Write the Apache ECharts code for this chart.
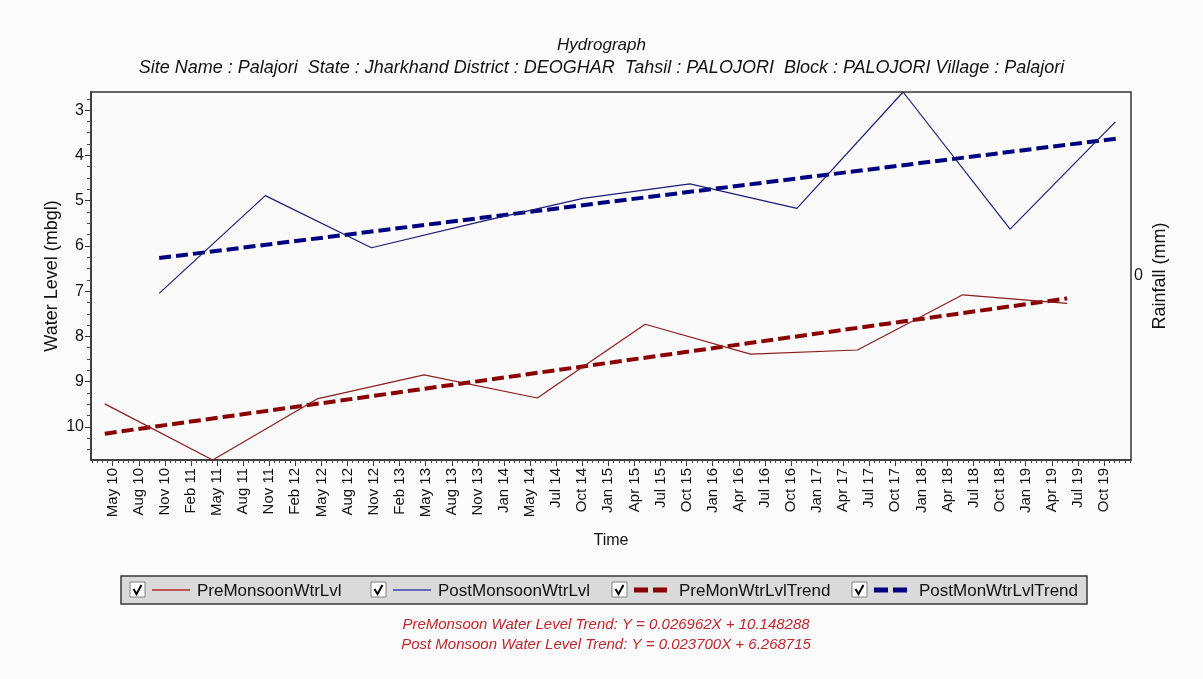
<!DOCTYPE html>
<html>
<head>
<meta charset="utf-8">
<script src="https://cdn.jsdelivr.net/npm/echarts@6/dist/echarts.min.js"></script>
<style>
  html, body { margin: 0; padding: 0; background: #fcfcfc; }
  #chart { width: 1203px; height: 679px; }
</style>
</head>
<body>
<div id="chart"></div>
<script>
// ---- data (x = months counted from Jan 2010, y = water level in m below ground) ----
const timeLabels = ['May 10','Aug 10','Nov 10','Feb 11','May 11','Aug 11','Nov 11','Feb 12','May 12','Aug 12',
  'Nov 12','Feb 13','May 13','Aug 13','Nov 13','Jan 14','May 14','Jul 14','Oct 14','Jan 15','Apr 15','Jul 15',
  'Oct 15','Jan 16','Apr 16','Jul 16','Oct 16','Jan 17','Apr 17','Jul 17','Oct 17','Jan 18','Apr 18','Jul 18',
  'Oct 18','Jan 19','Apr 19','Jul 19','Oct 19'];

const preMonsoonMonth = [3.6, 15.9, 27.8, 40.0, 52.9, 65.2, 77.2, 89.4, 101.4, 113.3];
const preMonsoonLevel = [9.49, 10.73, 9.38, 8.85, 9.36, 7.73, 8.39, 8.30, 7.08, 7.27];

const postMonsoonMonth = [9.8, 21.9, 34.0, 46.1, 58.1, 70.3, 82.5, 94.6, 106.8, 118.8];
const postMonsoonLevel = [7.05, 4.89, 6.04, 5.48, 4.95, 4.63, 5.17, 2.60, 5.63, 3.26];

const preTrendMonth = [3.6, 113.3];
const preTrendLevel = [10.148, 7.16];
const postTrendMonth = [9.8, 118.9];
const postTrendLevel = [6.269, 3.63];

const levelTicks = [3, 4, 5, 6, 7, 8, 9, 10];
const rainfallTicks = [0];

const seriesNames = ['PreMonsoonWtrLvl', 'PostMonsoonWtrLvl', 'PreMonWtrLvlTrend', 'PostMonWtrLvlTrend'];
const trendNotes = [
  'PreMonsoon Water Level Trend: Y = 0.026962X + 10.148288',
  'Post Monsoon Water Level Trend: Y = 0.023700X + 6.268715'
];
const titleText = 'Hydrograph';
const siteText = 'Site Name : Palajori  State : Jharkhand District : DEOGHAR  Tahsil : PALOJORI  Block : PALOJORI Village : Palajori';

// ---- layout ----
const FONT = '"Liberation Sans", Arial, sans-serif';
const GRID = { left: 91, top: 92, width: 1040, height: 368 };
const X_MIN = 2.03, X_MAX = 120.58;
const X_FIRST = 4.5, X_STEP = 113 / 38;

const COLORS = {
  pre: '#8c1c1c', post: '#1c1c78',
  preTrend: '#8b0000', postTrend: '#000080',
  preLegend: '#b52a2a', postLegend: '#3a45a8'
};

const zip = (xs, ys) => xs.map((x, i) => [x, ys[i]]);

const majorX = timeLabels.map((_, i) => X_FIRST + i * X_STEP);
const minorX = [];
for (let v = X_FIRST - X_STEP; v <= X_MAX; v += X_STEP / 5) {
  if (v >= X_MIN) minorX.push(v);
}

const allLevels = preMonsoonLevel.concat(postMonsoonLevel, preTrendLevel, postTrendLevel);
const yMin = Math.min(...allLevels), yMax = Math.max(...allLevels);
const minorY = [];
for (let v = Math.ceil(yMin * 4) / 4; v <= yMax; v += 0.25) {
  if (Math.abs(v - Math.round(v)) > 1e-6) minorY.push(v);
}

// ---- legend box with check boxes ----
const legendBox = { x: 121, y: 576, w: 966, h: 28 };
const legendItemX = [130, 371, 612, 852];
const legendStyles = [
  { color: COLORS.preLegend, width: 1.5, dash: null },
  { color: COLORS.postLegend, width: 1.5, dash: null },
  { color: COLORS.preTrend, width: 5, dash: [14, 5] },
  { color: COLORS.postTrend, width: 5, dash: [14, 5] }
];
const legendChildren = [{
  type: 'rect',
  shape: { x: legendBox.x, y: legendBox.y, width: legendBox.w, height: legendBox.h },
  style: { fill: '#dadada', stroke: '#3a3a3a', lineWidth: 1.5 }
}];
seriesNames.forEach((name, i) => {
  const x = legendItemX[i], cy = legendBox.y + 14;
  const st = legendStyles[i];
  legendChildren.push(
    { type: 'rect', shape: { x: x, y: cy - 8, width: 15, height: 15 },
      style: { fill: '#ffffff', stroke: '#808080', lineWidth: 1 } },
    { type: 'polyline', shape: { points: [[x + 3.5, cy - 1], [x + 6.5, cy + 4], [x + 11.5, cy - 5]] },
      style: { stroke: '#000', lineWidth: 2, fill: null } },
    { type: 'line', shape: { x1: x + 22, y1: cy, x2: x + 60, y2: cy },
      style: { stroke: st.color, lineWidth: st.width, lineDash: st.dash } },
    { type: 'text', x: x + 67, y: cy + 1,
      style: { text: name, font: '17px ' + FONT, fill: '#111', verticalAlign: 'middle', align: 'left' } }
  );
});
trendNotes.forEach((t, i) => {
  legendChildren.push({
    type: 'text', x: 606, y: 625 + i * 20,
    style: { text: t, font: 'italic 15px ' + FONT, fill: '#c0262b', align: 'center', verticalAlign: 'middle' }
  });
});

const chart = echarts.init(document.getElementById('chart'), null, { renderer: 'canvas' });

const option = {
  backgroundColor: '#fcfcfc',
  animation: false,
  textStyle: { fontFamily: FONT },
  title: {
    text: titleText,
    subtext: siteText,
    left: 'center',
    top: 32,
    itemGap: 5,
    textStyle: { fontSize: 17, fontStyle: 'italic', fontWeight: 'normal', color: '#111', fontFamily: FONT },
    subtextStyle: { fontSize: 18, fontStyle: 'italic', color: '#111', fontFamily: FONT }
  },
  grid: Object.assign({ show: true, backgroundColor: '#fafafa', borderColor: '#333', borderWidth: 1.5 }, GRID),
  xAxis: [{
    type: 'value', min: X_MIN, max: X_MAX, position: 'bottom',
    name: 'Time', nameLocation: 'middle', nameGap: 73, nameMoveOverlap: false,
    nameTextStyle: { fontSize: 16, color: '#111', fontFamily: FONT },
    axisLine: { show: true, onZero: false, lineStyle: { color: '#333', width: 1.5 } },
    axisTick: { show: true, length: 6, customValues: majorX, lineStyle: { color: '#333' } },
    axisLabel: {
      customValues: majorX, rotate: 90, margin: 8, fontSize: 15, color: '#111', fontFamily: FONT,
      formatter: v => timeLabels[Math.round((v - X_FIRST) / X_STEP)] || ''
    },
    splitLine: { show: false }
  }, {
    type: 'value', min: X_MIN, max: X_MAX, position: 'bottom',
    axisLine: { show: false, onZero: false },
    axisTick: { show: true, length: 3, customValues: minorX, lineStyle: { color: '#444' } },
    axisLabel: { show: false },
    splitLine: { show: false }
  }],
  yAxis: [{
    type: 'value', inverse: true, min: yMin, max: yMax, position: 'left',
    name: 'Water Level (mbgl)', nameLocation: 'middle', nameGap: 30, nameRotate: 90, nameMoveOverlap: false,
    nameTextStyle: { fontSize: 18, color: '#111', fontFamily: FONT },
    axisLine: { show: true, onZero: false, lineStyle: { color: '#333', width: 1.5 } },
    axisTick: { show: true, length: 6, customValues: levelTicks, lineStyle: { color: '#333' } },
    axisLabel: { customValues: levelTicks, margin: 7, fontSize: 16, color: '#111', fontFamily: FONT },
    splitLine: { show: false }
  }, {
    type: 'value', inverse: true, min: yMin, max: yMax, position: 'left',
    axisLine: { show: false, onZero: false },
    axisTick: { show: true, length: 4, customValues: minorY, lineStyle: { color: '#444' } },
    axisLabel: { show: false },
    splitLine: { show: false }
  }, {
    type: 'value', min: -1, max: 1, position: 'right',
    name: 'Rainfall (mm)', nameLocation: 'middle', nameGap: 20, nameRotate: 90, nameMoveOverlap: false,
    nameTextStyle: { fontSize: 18, color: '#111', fontFamily: FONT },
    axisLine: { show: false, onZero: false },
    axisTick: { show: false },
    axisLabel: { customValues: rainfallTicks, margin: 3, fontSize: 16, color: '#111', fontFamily: FONT },
    splitLine: { show: false }
  }],
  series: [{
    name: seriesNames[0], type: 'line', xAxisIndex: 0, yAxisIndex: 0,
    data: zip(preMonsoonMonth, preMonsoonLevel), showSymbol: false,
    lineStyle: { color: COLORS.pre, width: 1.2 }, itemStyle: { color: COLORS.pre }, z: 3
  }, {
    name: seriesNames[1], type: 'line', xAxisIndex: 0, yAxisIndex: 0,
    data: zip(postMonsoonMonth, postMonsoonLevel), showSymbol: false,
    lineStyle: { color: COLORS.post, width: 1.2 }, itemStyle: { color: COLORS.post }, z: 3
  }, {
    name: seriesNames[2], type: 'line', xAxisIndex: 0, yAxisIndex: 0,
    data: zip(preTrendMonth, preTrendLevel), showSymbol: false,
    lineStyle: { color: COLORS.preTrend, width: 4, type: [12, 5], cap: 'butt' },
    itemStyle: { color: COLORS.preTrend }, z: 2
  }, {
    name: seriesNames[3], type: 'line', xAxisIndex: 0, yAxisIndex: 0,
    data: zip(postTrendMonth, postTrendLevel), showSymbol: false,
    lineStyle: { color: COLORS.postTrend, width: 4, type: [12, 5], cap: 'butt' },
    itemStyle: { color: COLORS.postTrend }, z: 2
  }],
  graphic: { elements: legendChildren }
};

chart.setOption(option);
</script>
</body>
</html>
